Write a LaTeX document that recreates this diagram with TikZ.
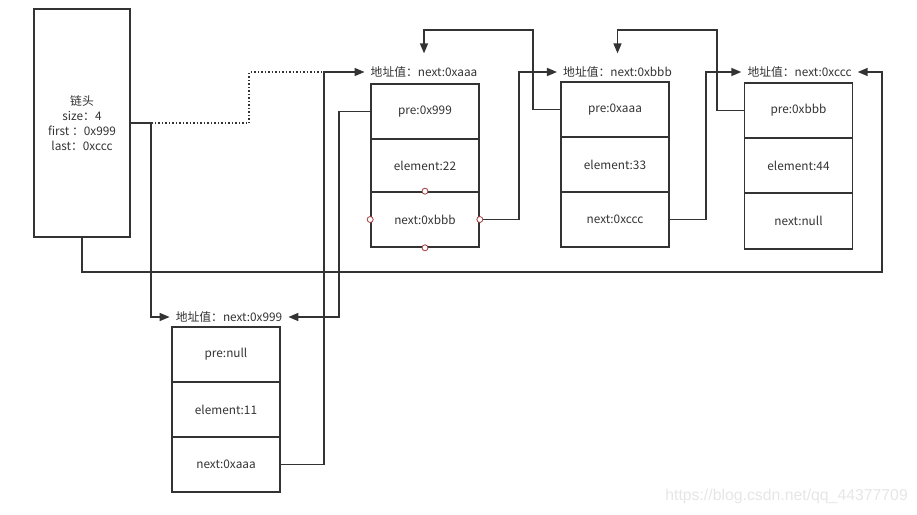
\documentclass[tikz,border=0pt]{standalone}
\usepackage{fontspec}
\setmainfont{Noto Sans CJK SC}
\newfontfamily\wmfont{Liberation Sans}
\usetikzlibrary{arrows.meta}
\definecolor{ink}{HTML}{333333}
\definecolor{port}{HTML}{A33B3B}
\definecolor{wm}{HTML}{E6E6E6}
\begin{document}
\begin{tikzpicture}[x=1pt,y=-1pt,
  cell/.style={draw=ink, line width=1.6pt, text=ink, font=\fontsize{11.8}{14}\selectfont, minimum width=108pt, inner sep=0pt},
  addr/.style={text=ink, font=\fontsize{11.8}{14}\selectfont, inner xsep=6pt, inner ysep=2pt},
  conn/.style={draw=ink, line width=1.5pt, -{Triangle[length=10pt,width=8pt]}},
  plain/.style={draw=ink, line width=1.5pt},
  dotline/.style={draw=ink, line width=1.5pt, dotted},
  portc/.style={circle, draw=port, fill=white, line width=0.8pt, minimum size=6pt, inner sep=0pt}]
\useasboundingbox (0,0) rectangle (917,514);

% head
\node[cell, minimum width=96pt, minimum height=228pt, align=center, font=\fontsize{11.8}{15}\selectfont] (head) at (82,123) {链头\\size：4\\first ：0x999\\last：0xccc};

% node 1 (0x999)
\node[addr] (l1) at (229,317) {地址值：next:0x999};
\node[cell, minimum height=55pt] (n1a) at (226,354.5) {pre:null};
\node[cell, minimum height=55pt] (n1b) at (226,409.5) {element:11};
\node[cell, minimum height=55pt] (n1c) at (226,464.5) {next:0xaaa};

% node 2 (0xaaa)
\node[addr] (l2) at (424,72) {地址值：next:0xaaa};
\node[cell, minimum height=55pt] (n2a) at (425,111.5) {pre:0x999};
\node[cell, minimum height=53pt] (n2b) at (425,165.5) {element:22};
\node[cell, minimum height=55pt] (n2c) at (425,219.5) {next:0xbbb};

% node 3 (0xbbb)
\node[addr] (l3) at (617.5,72) {地址值：next:0xbbb};
\node[cell, minimum height=55pt] (n3a) at (615,109.5) {pre:0xaaa};
\node[cell, minimum height=55pt] (n3b) at (615,164.5) {element:33};
\node[cell, minimum height=55pt] (n3c) at (615,219.5) {next:0xccc};

% node 4 (0xccc)
\node[addr] (l4) at (799.5,72) {地址值：next:0xccc};
\node[cell, minimum height=55pt] (n4a) at (798.5,110.5) {pre:0xbbb};
\node[cell, minimum height=55pt] (n4b) at (798.5,165.5) {element:44};
\node[cell, minimum height=56pt] (n4c) at (798.5,221) {next:null};

% connectors
\coordinate (hj) at (151,123);
\draw[plain] (head.east |- hj) -- (hj);
\draw[conn] (hj) |- (l1.west);
\draw[dotline] (hj) -- (249,123) -- (249,72) -- (324,72);
\draw[conn] (n1c.east) -| (324,72) -- (l2.west);
\draw[conn] (n2a.west) -| (339,317) -- (l1.east);
\draw[conn] (n2c.east) -| (519,72) -- (l3.west);
\draw[conn, shorten >=11pt] (n3a.west) -| (533,30) -| (l2.north);
\draw[conn] (n3c.east) -| (706,72) -- (l4.west);
\draw[conn, shorten >=11pt] (n4a.west) -| (717,30) -| (l3.north);
\draw[conn] (head.south) |- (882,272) |- (l4.east);

% connection points
\node[portc] at (n2c.north) {};
\node[portc] at (n2c.west) {};
\node[portc] at (n2c.east) {};
\node[portc] at (n2c.south) {};

% watermark
\node[text=wm, font=\wmfont\fontsize{15.8}{17}\selectfont, anchor=east, inner sep=0pt] (wmk) at (908,496) {https://blog.csdn.net/qq\_44377709};
\end{tikzpicture}
\end{document}
